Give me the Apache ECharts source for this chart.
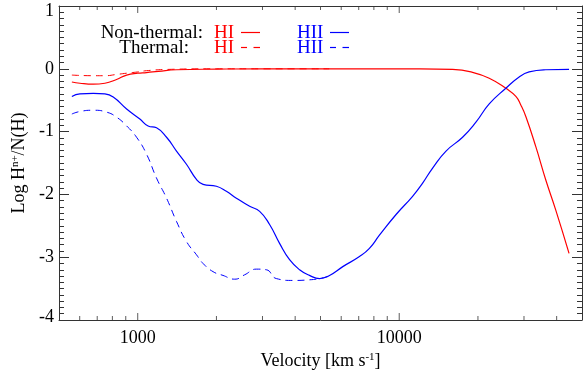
<!DOCTYPE html>
<html><head><meta charset="utf-8">
<script src="https://cdn.jsdelivr.net/npm/echarts@6/dist/echarts.min.js"></script>
<style>html,body{margin:0;padding:0;background:#fff}#c{width:583px;height:370px}</style>
</head><body><div id="c"></div>
<script>
// ---- axes ----
const xMin = 500, xMax = 50000;
const xMajorTicks = [1000, 10000];
const xMinorTicks = [600, 700, 800, 900, 2000, 3000, 4000, 5000, 6000, 7000, 8000, 9000, 20000, 30000, 40000];
const xTickLabels = ['1000', '10000'];
const yMin = -4, yMax = 1, yStep = 1;

// ---- data: velocity [km/s] and Log H^n+/N(H) ----
const hiNonThermalV = [560, 601, 676, 749, 830, 907, 1000, 1081, 1200, 1407, 2000, 3000, 5000, 8000, 12000, 16000, 19070, 22090, 25570, 27930, 29200, 30490, 33290, 36350, 39690, 44610];
const hiNonThermalY = [-0.21, -0.23, -0.245, -0.23, -0.17, -0.10, -0.07, -0.06, -0.04, -0.015, -0.005, 0, 0, 0, 0, -0.01, -0.056, -0.15, -0.31, -0.44, -0.58, -0.76, -1.24, -1.77, -2.25, -2.94];

const hiThermalV = [560, 676, 749, 830, 907, 1000, 1081, 1300, 2000, 3000, 5400];
const hiThermalY = [-0.10, -0.11, -0.11, -0.09, -0.07, -0.05, -0.03, -0.01, 0, 0, 0];

const hiiNonThermalV = [560, 601, 676, 749, 806, 907, 1019, 1096, 1180, 1289, 1407, 1536, 1677, 1778, 2000, 2183, 2384, 2679, 2926, 3194, 3487, 3808, 4158, 4539, 4957, 5413, 6084, 7047, 7693, 8401, 9727, 11250, 12290, 13420, 15100, 17470, 19650, 22090, 25570, 28750, 31390, 36350, 44610];
const hiiNonThermalY = [-0.44, -0.40, -0.39, -0.40, -0.45, -0.64, -0.80, -0.91, -0.94, -1.09, -1.31, -1.52, -1.76, -1.84, -1.87, -1.95, -2.06, -2.19, -2.27, -2.48, -2.78, -3.04, -3.20, -3.29, -3.34, -3.29, -3.15, -2.99, -2.86, -2.65, -2.32, -2.03, -1.82, -1.58, -1.31, -1.09, -0.85, -0.56, -0.31, -0.13, -0.05, -0.015, -0.01];

const hiiThermalV = [560, 601, 676, 760, 830, 907, 990, 1081, 1180, 1289, 1407, 1536, 1677, 1778, 1941, 2119, 2349, 2564, 2842, 3102, 3388, 3921, 4539, 4957, 5413];
const hiiThermalY = [-0.72, -0.68, -0.66, -0.69, -0.77, -0.91, -1.09, -1.36, -1.74, -2.06, -2.43, -2.75, -2.96, -3.10, -3.23, -3.29, -3.35, -3.28, -3.19, -3.20, -3.34, -3.37, -3.36, -3.34, -3.30];

const zip = (a, b) => a.map((v, i) => [v, b[i]]);

const FONT = 'Liberation Serif';
const AX = '#333';
const RED = '#ff0000', BLUE = '#0000ff';

function xAx(pos, withLabel) {
  return {
    type: 'log', logBase: 10, min: xMin, max: xMax, position: pos,
    axisLine: { show: true, onZero: false, lineStyle: { color: AX, width: 1 } },
    axisTick: { show: false },
    axisLabel: withLabel ? {
      show: true, customValues: xMajorTicks,
      formatter: v => xTickLabels[xMajorTicks.indexOf(Math.round(v))] || '',
      margin: 9, fontFamily: FONT, fontSize: 18, color: '#000'
    } : { show: false },
    splitLine: { show: false }, minorTick: { show: false }, minorSplitLine: { show: false },
    name: withLabel ? 'Velocity [km s{sup|-1}]' : '',
    nameLocation: 'middle', nameGap: 24,
    nameTextStyle: { fontFamily: FONT, fontSize: 18, color: '#000',
      rich: { sup: { fontFamily: FONT, fontSize: 11, color: '#000', verticalAlign: 'top', lineHeight: 18 } } }
  };
}
function yAx(pos, withLabel) {
  return {
    type: 'value', min: yMin, max: yMax, interval: yStep, position: pos,
    axisLine: { show: true, onZero: false, lineStyle: { color: AX, width: 1 } },
    axisTick: { show: true, inside: true, length: 10, lineStyle: { color: AX, width: 1 } },
    minorTick: { show: true, splitNumber: 10, length: 5, lineStyle: { color: AX, width: 1 } },
    axisLabel: withLabel ? {
      show: true, margin: 5, fontFamily: FONT, fontSize: 18, color: '#000',
      formatter: v => v === yMax ? '{t|' + v + '}' : (v === yMin ? '{b|' + v + '}' : String(v)),
      rich: { t: { fontFamily: FONT, fontSize: 18, color: '#000', padding: [10, 0, 0, 0] },
              b: { fontFamily: FONT, fontSize: 18, color: '#000', padding: [0, 0, 6, 0] } }
    } : { show: false },
    splitLine: { show: false }, minorSplitLine: { show: false },
    name: withLabel ? 'Log H{sup|n+}/N(H)' : '',
    nameLocation: 'middle', nameGap: 23, nameRotate: 90,
    nameTextStyle: { fontFamily: FONT, fontSize: 18, color: '#000',
      rich: { sup: { fontFamily: FONT, fontSize: 11, color: '#000', verticalAlign: 'top', lineHeight: 18 } } }
  };
}

// x-axis tick marks (inward, on bottom and top frame) drawn through the log scale
function tickSeries(values, yVal, len, up) {
  return {
    type: 'scatter', silent: true, clip: false, z: 1, animation: false,
    data: values.map(v => [v, yVal]),
    symbol: 'rect', symbolSize: [1, len], symbolOffset: [0, up ? -len / 2 : len / 2],
    itemStyle: { color: AX }, emphasis: { disabled: true }, tooltip: { show: false }
  };
}

const chart = echarts.init(document.getElementById('c'), null, { renderer: 'canvas' });
const lineBase = { type: 'line', showSymbol: false, smooth: 0.5 };
chart.setOption({
  animation: false,
  backgroundColor: '#fff',
  grid: { left: 59, right: 1, top: 6, bottom: 50, containLabel: false, outerBoundsMode: 'none' },
  xAxis: [xAx('bottom', true), xAx('top', false)],
  yAxis: [yAx('left', true), yAx('right', false)],
  series: [
    tickSeries(xMajorTicks, yMin, 7, true),
    tickSeries(xMinorTicks, yMin, 4, true),
    tickSeries(xMajorTicks, yMax, 7, false),
    tickSeries(xMinorTicks, yMax, 4, false),
    Object.assign({ name: 'HII thermal', data: zip(hiiThermalV, hiiThermalY),
      lineStyle: { color: BLUE, width: 1, type: [7, 5] } }, lineBase),
    Object.assign({ name: 'HI thermal', data: zip(hiThermalV, hiThermalY),
      lineStyle: { color: RED, width: 1, type: [7, 5] } }, lineBase),
    Object.assign({ name: 'HI non-thermal', data: zip(hiNonThermalV, hiNonThermalY),
      lineStyle: { color: RED, width: 1.2 } }, lineBase),
    Object.assign({ name: 'HII non-thermal', data: zip(hiiNonThermalV, hiiNonThermalY),
      lineStyle: { color: BLUE, width: 1.2 } }, lineBase)
  ],
  graphic: [
    { type: 'text', style: { text: 'Non-thermal:', x: 203, y: 33, align: 'right', verticalAlign: 'middle', font: '19px "Liberation Serif"', fill: '#000' } },
    { type: 'text', style: { text: 'HI', x: 214, y: 33, align: 'left', verticalAlign: 'middle', font: '19px "Liberation Serif"', fill: RED } },
    { type: 'line', shape: { x1: 241, y1: 32.5, x2: 260, y2: 32.5 }, style: { stroke: RED, lineWidth: 1.2 } },
    { type: 'text', style: { text: 'HII', x: 297, y: 33, align: 'left', verticalAlign: 'middle', font: '19px "Liberation Serif"', fill: BLUE } },
    { type: 'line', shape: { x1: 330, y1: 32.5, x2: 349, y2: 32.5 }, style: { stroke: BLUE, lineWidth: 1.2 } },
    { type: 'text', style: { text: 'Thermal:', x: 189, y: 48, align: 'right', verticalAlign: 'middle', font: '19px "Liberation Serif"', fill: '#000' } },
    { type: 'text', style: { text: 'HI', x: 214, y: 48, align: 'left', verticalAlign: 'middle', font: '19px "Liberation Serif"', fill: RED } },
    { type: 'line', shape: { x1: 241, y1: 47.5, x2: 247, y2: 47.5 }, style: { stroke: RED, lineWidth: 1.2 } },
    { type: 'line', shape: { x1: 253.5, y1: 47.5, x2: 260, y2: 47.5 }, style: { stroke: RED, lineWidth: 1.2 } },
    { type: 'text', style: { text: 'HII', x: 297, y: 48, align: 'left', verticalAlign: 'middle', font: '19px "Liberation Serif"', fill: BLUE } },
    { type: 'line', shape: { x1: 330, y1: 47.5, x2: 336, y2: 47.5 }, style: { stroke: BLUE, lineWidth: 1.2 } },
    { type: 'line', shape: { x1: 342.5, y1: 47.5, x2: 349, y2: 47.5 }, style: { stroke: BLUE, lineWidth: 1.2 } }
  ]
});
</script>
</body></html>
